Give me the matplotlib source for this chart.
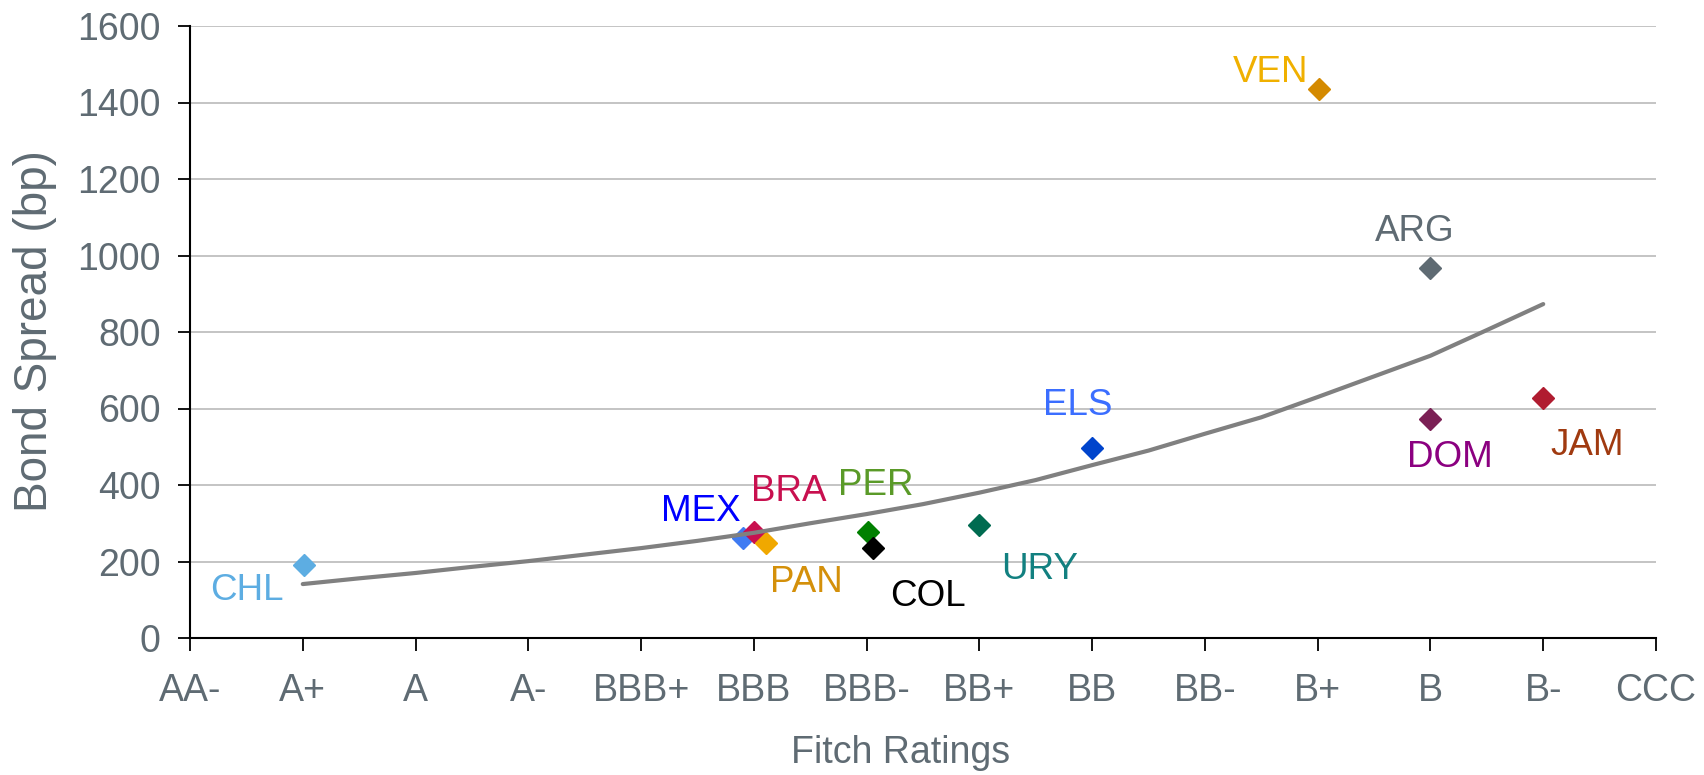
import matplotlib.pyplot as plt

plt.rcParams['font.family'] = ['Liberation Sans', 'DejaVu Sans']

# rating scale on the x axis (position = index)
ratings = ['AA-', 'A+', 'A', 'A-', 'BBB+', 'BBB', 'BBB-', 'BB+', 'BB', 'BB-',
           'B+', 'B', 'B-', 'CCC']

# fitted spread curve, read every half rating step
curve_x = [1, 1.5, 2, 2.5, 3, 3.5, 4, 4.5, 5, 5.5, 6, 6.5,
           7, 7.5, 8, 8.5, 9, 9.5, 10, 10.5, 11, 11.5, 12]
curve_y = [141, 156, 170, 186, 201, 218, 235, 254, 275, 300, 324, 350,
           380, 413, 452, 490, 534, 577, 630, 684, 738, 805, 873]

# countries (draw order matters where markers overlap)
countries = ['CHL', 'MEX', 'BRA', 'PAN', 'PER', 'COL', 'URY', 'ELS', 'VEN', 'ARG', 'DOM', 'JAM']
country_x = [1.01, 4.90, 5.00, 5.11, 6.01, 6.06, 7.00, 8.00, 10.01, 11.00, 11.00, 12.00]
spread_bp = [190, 262, 276, 249, 278, 236, 296, 497, 1434, 968, 572, 627]

marker_colors = ['#5DADE2', '#3F7BF2', '#C8104F', '#F0A800', '#008000', '#000000',
                 '#006B50', '#0044CC', '#D48A00', '#5F6B73', '#7B2055', '#B01C30']
label_colors = ['#5DADE2', '#0000FF', '#C8104F', '#D4900A', '#5A9A28', '#000000',
                '#128080', '#3B6EFF', '#F0B000', '#5F6B73', '#8B0080', '#A03A10']
# label offsets from the marker, in pixels (dx right, dy up)
label_dx = [-57, -42, 35, 40, 8, 55, 60, -14, -48, -16, 19, 44]
label_dy = [-25, 26, 41, -40, 46, -49, -45, 42, 17, 36, -38, -47]

text_gray = '#5F6B73'

fig = plt.figure(figsize=(17.04, 7.75), dpi=100)
ax = fig.add_axes([190 / 1704, 1 - 638 / 775, 1466 / 1704, 612 / 775])

ax.set_xlim(0, 13)
ax.set_ylim(0, 1600)

# grid
ax.set_yticks(range(0, 1601, 200))
ax.grid(axis='y', color='#C4C4C4', lw=1.4, zorder=0)
ax.set_axisbelow(True)

# markers and their labels
for i in range(len(countries)):
    ax.plot(country_x[i], spread_bp[i], marker='D', ms=11, color=marker_colors[i],
            mec=marker_colors[i], ls='none', zorder=2)
    ax.annotate(countries[i], (country_x[i], spread_bp[i]),
                xytext=(label_dx[i], label_dy[i]), textcoords='offset pixels',
                ha='center', va='center', fontsize=26.5, color=label_colors[i], zorder=5)

# fitted curve
ax.plot(curve_x, curve_y, color='#808080', lw=3.0, zorder=3, solid_capstyle='round')

# axes styling
ax.set_xticks(range(len(ratings)))
ax.set_xticklabels(ratings)
for side in ['top', 'right']:
    ax.spines[side].set_visible(False)
for side in ['left', 'bottom']:
    ax.spines[side].set_linewidth(1.5)
    ax.spines[side].set_color('black')
ax.tick_params(direction='out', length=9, width=1.3, color='black',
               labelsize=27, labelcolor=text_gray, pad=12)
ax.tick_params(axis='x', pad=16)

ax.set_xlabel('Fitch Ratings', fontsize=27, color=text_gray)
ax.set_ylabel('Bond Spread (bp)', fontsize=33, color=text_gray)
ax.xaxis.label.set_va('center')
ax.yaxis.label.set_va('center')
ax.xaxis.set_label_coords(0.485, -0.188)
ax.yaxis.set_label_coords(-0.106, 0.501)

fig.savefig('out.png', dpi=100)
